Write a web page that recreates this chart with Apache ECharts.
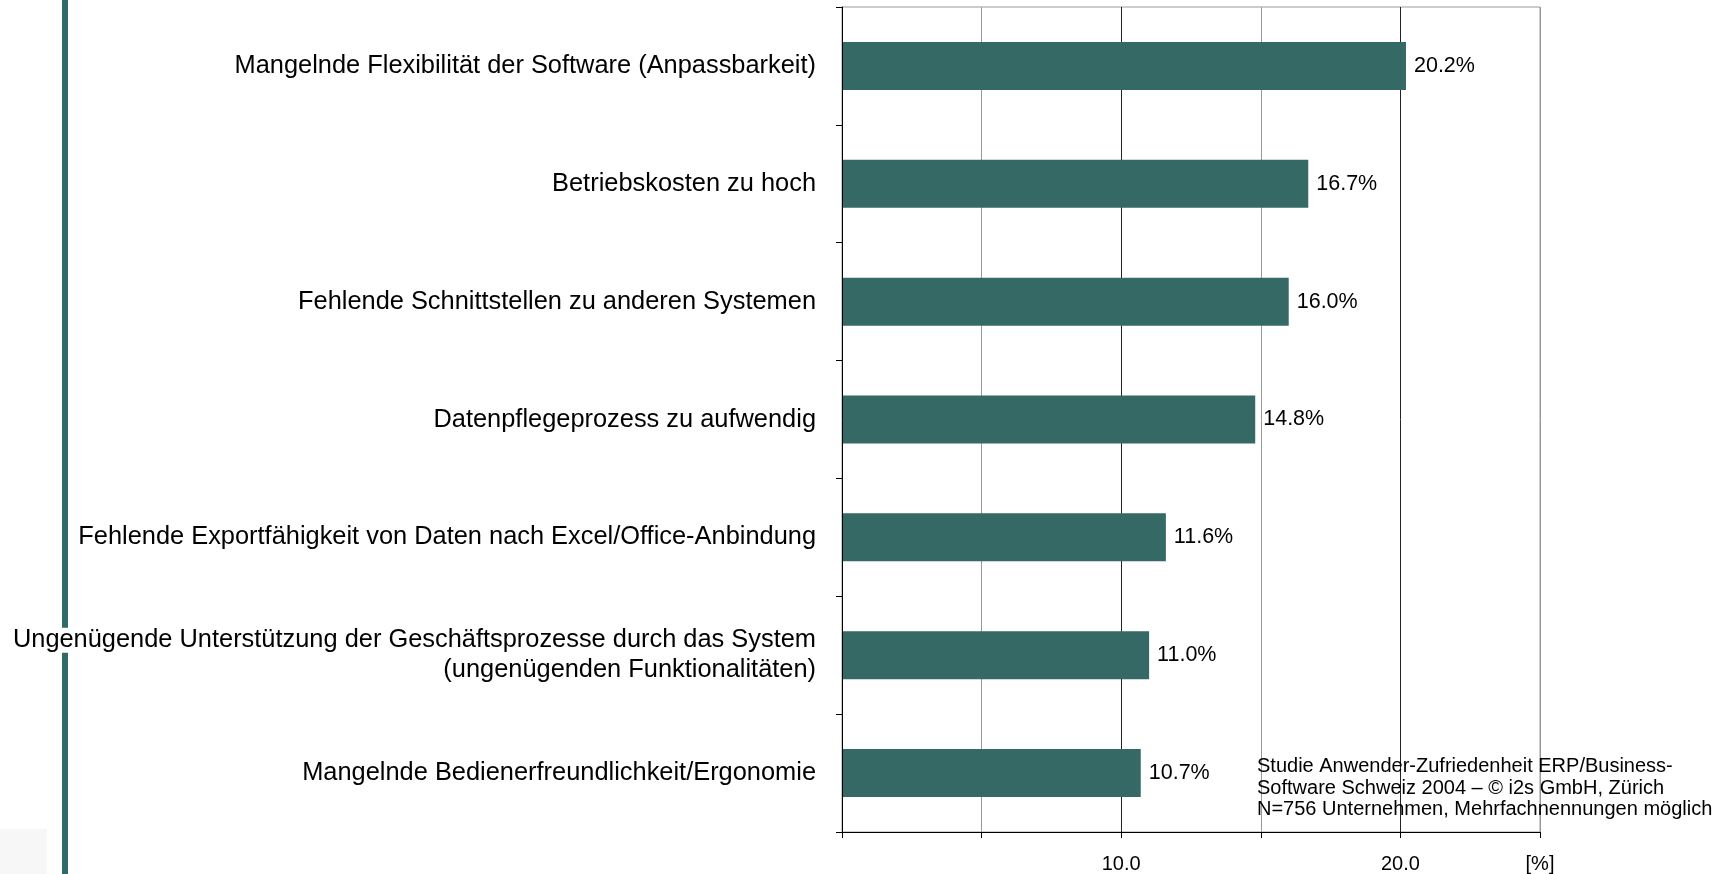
<!DOCTYPE html>
<html>
<head>
<meta charset="utf-8">
<title>ERP Zufriedenheit</title>
<script src="https://cdn.jsdelivr.net/npm/echarts@6/dist/echarts.min.js"></script>
<style>
	html, body { margin: 0; padding: 0; background: #fff; }
	#chart { width: 1733px; height: 874px; }
</style>
</head>
<body>
<div id="chart"></div>
<script>
// Gründe für Unzufriedenheit (Anteil in %)
var categories = [
	'Mangelnde Flexibilität der Software (Anpassbarkeit)',
	'Betriebskosten zu hoch',
	'Fehlende Schnittstellen zu anderen Systemen',
	'Datenpflegeprozess zu aufwendig',
	'Fehlende Exportfähigkeit von Daten nach Excel/Office-Anbindung',
	'Ungenügende Unterstützung der Geschäftsprozesse durch das System\n(ungenügenden Funktionalitäten)',
	'Mangelnde Bedienerfreundlichkeit/Ergonomie'
];
var values = [20.2, 16.7, 16.0, 14.8, 11.6, 11.0, 10.7];

// Achsenbeschriftung unten
var tickValues = [10, 20, 25];
var tickLabels = ['10.0', '20.0', '[%]'];

var footnote = [
	'Studie Anwender-Zufriedenheit ERP/Business-',
	'Software Schweiz 2004 – © i2s GmbH, Zürich',
	'N=756 Unternehmen, Mehrfachnennungen möglich'
];

var FONT = '"Liberation Sans", Arial, sans-serif';
var TEAL = '#356966';

var chart = echarts.init(document.getElementById('chart'));

var option = {
	backgroundColor: '#fff',
	animation: false,
	textStyle: { fontFamily: FONT },
	grid: {
		left: 842,
		right: 193,
		top: 7,
		bottom: 40,
		show: true,
		borderColor: '#999',
		borderWidth: 1
	},
	xAxis: {
		type: 'value',
		min: 0,
		max: 25,
		interval: 5,
		axisLine: { show: true, lineStyle: { color: '#000', width: 1 } },
		axisTick: { show: true, length: 6, lineStyle: { color: '#000' } },
		splitLine: { show: true, lineStyle: { color: ['#222', '#999'], width: 1 } },
		axisLabel: {
			margin: 22,
			fontSize: 20,
			color: '#000',
			fontFamily: FONT,
			formatter: function(v) {
				var i = tickValues.indexOf(v);
				return i >= 0 ? tickLabels[i] : '';
			}
		}
	},
	yAxis: {
		type: 'category',
		inverse: true,
		data: categories,
		z: 10,
		axisLine: { show: true, lineStyle: { color: '#000', width: 1 } },
		axisTick: { show: true, length: 6, lineStyle: { color: '#000' } },
		splitLine: { show: false },
		axisLabel: {
			margin: 26,
			fontSize: 25.4,
			color: '#000',
			fontFamily: FONT,
			formatter: function(v) {
				// weisser Hintergrund, damit der Balken links verdeckt wird
				return v.split('\n').map(function(s) { return '{w|' + s + '}'; }).join('\n');
			},
			rich: {
				w: { fontSize: 25.4, lineHeight: 30, color: '#000', fontFamily: FONT, backgroundColor: '#fff' }
			}
		}
	},
	series: [{
		type: 'bar',
		data: values,
		barWidth: 48,
		itemStyle: { color: TEAL },
		label: {
			show: true,
			position: 'right',
			distance: 8,
			fontSize: 21.5,
			color: '#000',
			fontFamily: FONT,
			formatter: function(p) { return p.value.toFixed(1) + '%'; }
		}
	}],
	graphic: [
		{
			type: 'rect',
			z: 0,
			shape: { x: 62, y: 0, width: 6, height: 874 },
			style: { fill: '#2f6a68' }
		},
		{
			type: 'rect',
			z: 0,
			shape: { x: 0, y: 829, width: 47, height: 45 },
			style: { fill: '#f7f7f7' }
		},
		{
			type: 'text',
			z: 5,
			left: 1257,
			top: 756,
			style: {
				text: footnote.join('\n'),
				font: '20px ' + FONT,
				lineHeight: 21.5,
				fill: '#000'
			}
		}
	]
};
chart.setOption(option);
</script>
</body>
</html>
